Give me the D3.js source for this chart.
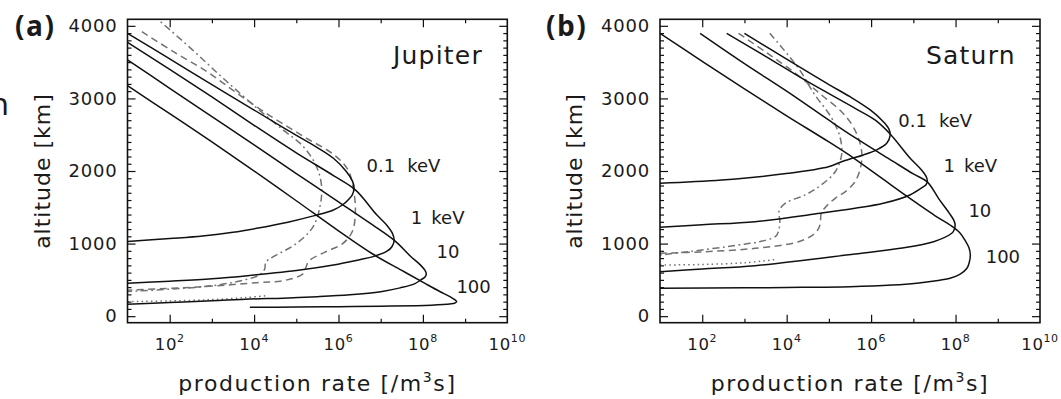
<!DOCTYPE html>
<html>
<head>
<meta charset="utf-8">
<script src="https://cdn.jsdelivr.net/npm/d3@7"></script>
<style>
  html, body { margin: 0; padding: 0; background: #fff; }
  svg { display: block; }
  text { font-family: "DejaVu Sans", sans-serif; fill: #1a1a1a; }
</style>
</head>
<body>
<svg id="chart" width="1061" height="399"></svg>
<script>
// Ion production-rate profiles for monoenergetic electrons.
// Each point is [log10 production rate (/m^3 s), altitude (km)].

const xTickExponents = [2, 4, 6, 8, 10];
const xDecades = [2, 3, 4, 5, 6, 7, 8, 9];
const yTicks = [0, 1000, 2000, 3000, 4000];
const energyLabels = ["0.1", "1", "10", "100"];

// Jupiter
const jup01 = [[1.0,3897],[2.0,3545],[3.0,3190],[4.0,2840],[4.8,2560],[5.48,2330],[5.88,2175],[6.19,1990],[6.33,1860],[6.37,1762],[6.33,1675],[6.25,1615],[6.1,1535],[5.88,1463],[5.43,1385],[4.8,1295],[4.06,1210],[3.5,1155],[2.78,1105],[2.0,1070],[1.0,1030]];
const jup1 = [[1.0,3773],[2.0,3400],[3.0,3020],[4.0,2630],[5.0,2250],[5.9,1930],[6.4,1740],[6.9,1400],[7.15,1250],[7.27,1150],[7.32,1049],[7.27,960],[7.15,895],[6.82,820],[6.5,778],[5.88,705],[5.09,636],[3.9,562],[3.0,515],[2.0,482],[1.0,455]];
const jup10 = [[1.0,3531],[2.0,3140],[3.0,2750],[4.0,2360],[5.0,1965],[6.0,1575],[6.8,1260],[7.33,1040],[7.7,830],[7.95,700],[8.05,630],[8.08,585],[8.05,540],[7.95,500],[7.8,445],[7.46,390],[7.0,338],[6.27,295],[5.5,268],[4.69,248],[3.9,236],[3.0,212],[2.0,188],[1.0,165]];
const jup100 = [[1.0,3175],[2.0,2790],[3.0,2400],[3.9,2041],[5.0,1590],[6.0,1175],[6.8,860],[7.5,630],[8.07,445],[8.4,340],[8.65,265],[8.78,215],[8.8,199],[8.75,178],[8.64,168],[8.2,152],[7.85,145],[7.0,137],[6.0,131],[5.0,126],[3.9,122]];
const jupDash = [[1.34,3920],[2.1,3640],[2.88,3370],[3.6,3070],[4.38,2760],[5.19,2470],[5.9,2220],[6.23,2010],[6.35,1760],[6.4,1450],[6.33,1170],[6.1,1000],[5.67,880],[5.3,760],[5.22,660],[5.15,580],[4.7,490],[4.06,462],[2.78,405],[1.0,358]];
const jupDashDot = [[1.6,4150],[2.5,3690],[3.3,3260],[4.14,2830],[4.7,2560],[5.17,2335],[5.48,2059],[5.6,1784],[5.56,1508],[5.4,1233],[5.01,1004],[4.46,819],[4.28,745],[4.25,650],[4.15,575],[3.58,475],[2.78,405],[1.0,340]];
const jupDot = [[1.0,200],[2.0,210],[3.0,228],[3.8,256],[4.3,283]];

// Saturn
const sat01 = [[3.0,3897],[4.0,3540],[5.0,3190],[5.5,3024],[5.98,2841],[6.29,2679],[6.42,2580],[6.45,2487],[6.37,2381],[6.13,2290],[5.82,2221],[5.5,2165],[5.3,2128],[4.99,2059],[4.04,1968],[2.46,1876],[1.0,1831]];
const sat1 = [[2.58,3897],[3.5,3580],[4.5,3230],[5.62,2864],[6.1,2700],[6.45,2510],[6.92,2180],[7.2,2010],[7.3,1930],[7.33,1866],[7.3,1810],[7.24,1784],[6.92,1670],[6.29,1555],[5.62,1486],[4.79,1417],[3.25,1302],[2.0,1260],[1.0,1224]];
const sat10 = [[1.95,3897],[3.0,3480],[4.0,3100],[5.0,2700],[5.62,2459],[6.5,2140],[7.0,1960],[7.33,1850],[7.6,1620],[7.85,1420],[7.96,1320],[7.99,1256],[7.96,1180],[7.91,1142],[7.48,1026],[6.69,935],[5.62,857],[3.25,695],[2.0,650],[1.0,613]];
const sat100 = [[1.0,3897],[2.0,3510],[3.0,3130],[4.0,2760],[5.0,2400],[5.62,2165],[6.3,1880],[6.81,1667],[7.5,1390],[7.87,1256],[8.1,1150],[8.23,1040],[8.32,940],[8.35,843],[8.32,730],[8.27,660],[8.1,575],[7.87,522],[7.5,485],[7.08,453],[6.5,428],[5.5,406],[4.0,395],[3.0,390],[1.0,384]];
const satDash = [[2.86,3897],[3.5,3640],[4.2,3350],[4.8,3060],[5.3,2817],[5.55,2634],[5.7,2450],[5.78,2250],[5.75,2050],[5.62,1853],[5.4,1720],[5.15,1624],[4.95,1520],[4.82,1420],[4.79,1256],[4.67,1142],[4.28,1026],[3.25,935],[2.07,888],[1.0,866]];
const satDashDot = [[3.6,3897],[4.28,3415],[4.67,3047],[5.07,2726],[5.27,2451],[5.3,2220],[5.15,1990],[4.8,1800],[4.44,1670],[3.98,1560],[3.82,1450],[3.84,1300],[3.8,1160],[3.73,1095],[3.3,1020],[2.86,980],[1.67,888],[1.0,843]];
const satDot = [[1.0,705],[2.0,712],[3.0,735],[3.73,780]];

// Where each energy label sits, in the same [log10 rate, altitude] units
const jupLabelAt = [[6.70,1990],[7.75,1270],[8.36,797],[8.83,323]];
const satLabelAt = [[6.68,2610],[7.75,1990],[8.34,1370],[8.75,737]];

const panels = [
  { tag: "(a)", planet: "Jupiter", left: 127.5, right: 507.3, tagX: 15, titleX: 50, planetX: 393,
    solid: [jup01, jup1, jup10, jup100], dashed: jupDash, dashDot: jupDashDot, dotted: jupDot, labelAt: jupLabelAt },
  { tag: "(b)", planet: "Saturn", left: 660, right: 1040, tagX: 546, titleX: 582, planetX: 926,
    solid: [sat01, sat1, sat10, sat100], dashed: satDash, dashDot: satDashDot, dotted: satDot, labelAt: satLabelAt }
];

const TOP = 19.3, BOTTOM = 322.7;
const svg = d3.select("#chart");

// fragment of neighbouring text at the left edge
svg.append("text").attr("x", -10).attr("y", 115)
  .style("font-size", "30px").text("n");

panels.forEach((p, i) => {
  const x = d3.scaleLog().domain([1e1, 1e10]).range([p.left, p.right]);
  const y = d3.scaleLinear().domain([-90, 4090]).range([BOTTOM, TOP]);
  const g = svg.append("g");

  const clipId = "clip" + i;
  svg.append("clipPath").attr("id", clipId)
    .append("rect").attr("x", p.left).attr("y", TOP)
    .attr("width", p.right - p.left).attr("height", BOTTOM - TOP);

  const line = d3.line()
    .x(d => x(Math.pow(10, d[0])))
    .y(d => y(d[1]))
    .curve(d3.curveCatmullRom.alpha(0.5));

  const plot = g.append("g").attr("clip-path", `url(#${clipId})`);
  const gray = "#727272";
  plot.append("path").datum(p.dotted).attr("d", line)
    .attr("fill", "none").attr("stroke", gray).attr("stroke-width", 1.5)
    .attr("stroke-dasharray", "1.5,3.2");
  plot.append("path").datum(p.dashDot).attr("d", line)
    .attr("fill", "none").attr("stroke", gray).attr("stroke-width", 1.5)
    .attr("stroke-dasharray", "7,3.5,1.8,3.5");
  plot.append("path").datum(p.dashed).attr("d", line)
    .attr("fill", "none").attr("stroke", gray).attr("stroke-width", 1.5)
    .attr("stroke-dasharray", "7,4.5");
  p.solid.forEach(s => {
    plot.append("path").datum(s).attr("d", line)
      .attr("fill", "none").attr("stroke", "#111").attr("stroke-width", 1.5);
  });

  // axes with inward ticks on all four sides
  const majorX = xDecades.filter(e => e % 2 === 0).map(e => Math.pow(10, e));
  const minorX = xDecades.filter(e => e % 2 === 1).map(e => Math.pow(10, e));
  const minorY = d3.range(100, 4000, 100).filter(v => v % 1000 !== 0);

  const styleAxis = sel => { sel.select(".domain").remove(); sel.selectAll("line").attr("stroke", "#111").attr("stroke-width", 1.2); };

  g.append("g").attr("transform", `translate(0,${BOTTOM})`)
    .call(d3.axisBottom(x).tickValues(majorX).tickSize(-8).tickFormat("")).call(styleAxis);
  g.append("g").attr("transform", `translate(0,${BOTTOM})`)
    .call(d3.axisBottom(x).tickValues(minorX).tickSize(-4).tickFormat("")).call(styleAxis);
  g.append("g").attr("transform", `translate(0,${TOP})`)
    .call(d3.axisTop(x).tickValues(majorX).tickSize(-8).tickFormat("")).call(styleAxis);
  g.append("g").attr("transform", `translate(0,${TOP})`)
    .call(d3.axisTop(x).tickValues(minorX).tickSize(-4).tickFormat("")).call(styleAxis);

  const yLeft = g.append("g").attr("transform", `translate(${p.left},0)`)
    .call(d3.axisLeft(y).tickValues(yTicks).tickSize(-8).tickPadding(10).tickFormat(d3.format("d")))
    .call(styleAxis);
  yLeft.selectAll("text").attr("font-family", null)
    .style("font-size", "18px").style("letter-spacing", "0.8px").attr("fill", "#1a1a1a");
  g.append("g").attr("transform", `translate(${p.left},0)`)
    .call(d3.axisLeft(y).tickValues(minorY).tickSize(-4).tickFormat("")).call(styleAxis);
  g.append("g").attr("transform", `translate(${p.right},0)`)
    .call(d3.axisRight(y).tickValues(yTicks).tickSize(-8).tickFormat("")).call(styleAxis);
  g.append("g").attr("transform", `translate(${p.right},0)`)
    .call(d3.axisRight(y).tickValues(minorY).tickSize(-4).tickFormat("")).call(styleAxis);

  g.append("rect").attr("x", p.left).attr("y", TOP)
    .attr("width", p.right - p.left).attr("height", BOTTOM - TOP)
    .attr("fill", "none").attr("stroke", "#111").attr("stroke-width", 1.6);

  // power-of-ten tick labels
  xTickExponents.forEach(e => {
    const t = g.append("text").attr("x", x(Math.pow(10, e))).attr("y", 350)
      .attr("text-anchor", "middle").style("font-size", "16.5px").style("letter-spacing", "0.6px");
    t.append("tspan").text("10");
    t.append("tspan").attr("dy", -8.5).style("font-size", "11px").text(String(e));
  });

  // axis titles
  const cx = (p.left + p.right) / 2;
  const xt = g.append("text").attr("x", cx).attr("y", 391)
    .attr("text-anchor", "middle").style("font-size", "22px").style("letter-spacing", "1.6px");
  xt.append("tspan").text("production rate [/m");
  xt.append("tspan").attr("dy", -9).style("font-size", "14px").text("3");
  xt.append("tspan").attr("dy", 9).text("s]");

  g.append("text").attr("transform", `translate(${p.titleX},${(TOP + BOTTOM) / 2}) rotate(-90)`)
    .attr("text-anchor", "middle").style("font-size", "22px").style("letter-spacing", "1px")
    .text("altitude [km]");

  // planet name
  g.append("text").attr("x", p.planetX).attr("y", 63.5)
    .style("font-size", "25px").style("letter-spacing", "1.2px").text(p.planet);

  // energy labels
  p.labelAt.forEach((pos, k) => {
    const t = g.append("text").attr("x", x(Math.pow(10, pos[0])) - 1.5).attr("y", y(pos[1]))
      .style("font-size", "18px").attr("fill", "#111");
    t.append("tspan").text(energyLabels[k]);
    if (k < 2) t.append("tspan").attr("dx", k === 0 ? 12 : 9).text("keV");
  });

  // panel tag
  g.append("text").attr("x", p.tagX).attr("y", 36)
    .style("font-family", "'Open Sans', sans-serif").style("font-weight", "700")
    .style("font-size", "28px").style("letter-spacing", "1.5px").attr("fill", "#1c1a1a")
    .text(p.tag);
});
</script>
</body>
</html>
